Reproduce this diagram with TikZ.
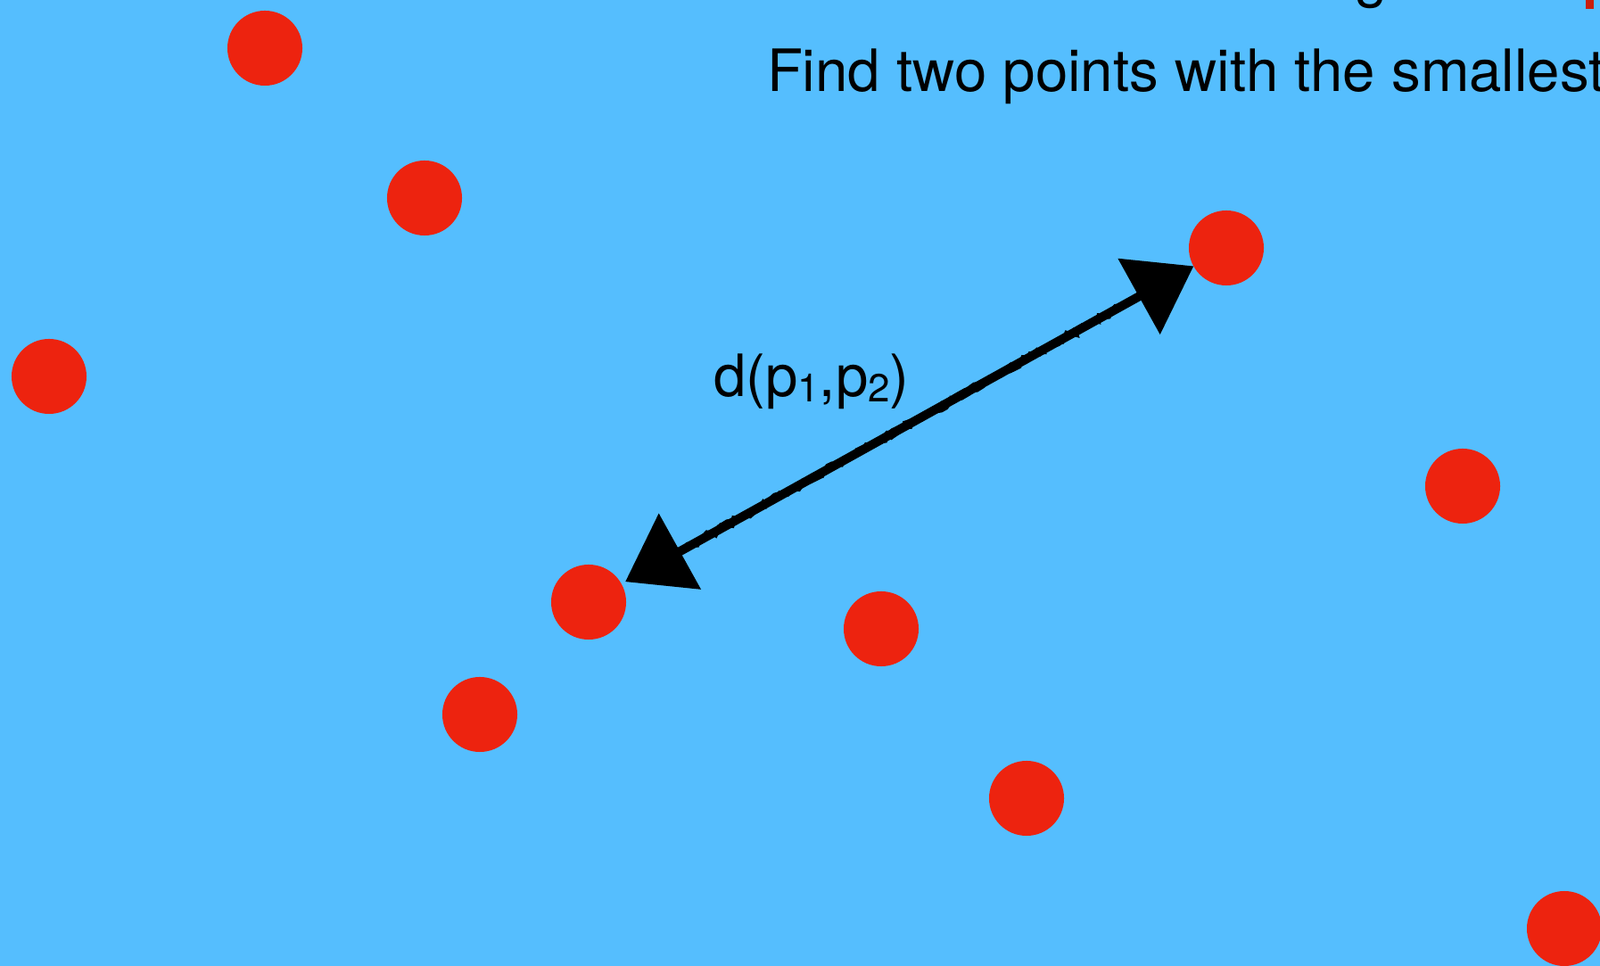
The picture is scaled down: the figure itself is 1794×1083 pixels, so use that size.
\documentclass[tikz,border=0pt]{standalone}
\usepackage{fontspec}
\setmainfont{TeX Gyre Heros}
\usetikzlibrary{arrows.meta,decorations.pathmorphing,calc}
\definecolor{bgblue}{RGB}{85,190,254}
\definecolor{dotred}{RGB}{237,35,15}
\tikzset{
  pt/.style={circle,fill=dotred,draw=none,inner sep=0pt,outer sep=0pt,minimum size=0.84cm},
  bigtext/.style={inner sep=0pt,outer sep=0pt,font=\fontsize{18.6}{22}\selectfont},
  distarrow/.style={line width=0.1cm,draw=black,
    {Triangle[length=0.7cm,width=0.95cm]}-{Triangle[length=0.7cm,width=0.95cm]},
    shorten <=0.05cm},
  roughline/.style={line width=0.04cm,draw=black,decorate,
    decoration={random steps,segment length=2pt,amplitude=1.3pt}}
}
\newcommand{\subsc}[1]{\raisebox{-0.15ex}{\fontsize{12.5}{13}\selectfont #1}}
\begin{document}
\begin{tikzpicture}[x=0.01cm,y=-0.01cm]
\useasboundingbox (0,0) rectangle (1794,1083);
\clip (0,0) rectangle (1794,1083);
\fill[bgblue] (0,0) rectangle (1794,1083);
% partial title line above
\node[bigtext,anchor=base west] (gtail) at (1519,-4) {g};
\fill[dotred!85!black] (1778,0) rectangle (1787,10);
% subtitle
\node[bigtext,anchor=base west] (sub) at (860,103) {Find two points with the smallest};
% points
\node[pt] (a) at (297,54) {};
\node[pt] (b) at (476,222) {};
\node[pt] (c) at (55,422) {};
\node[pt] (p2) at (1375,278) {};
\node[pt] (e) at (1640,545) {};
\node[pt] (p1) at (660,675) {};
\node[pt] (f) at (988,705) {};
\node[pt] (g) at (538,801) {};
\node[pt] (h) at (1151,895) {};
\node[pt] (i) at (1754,1041) {};
% distance arrow
\draw[distarrow] (p1) -- (p2);
\draw[roughline] ($(p1)!0.15!(p2)$) -- ($(p1)!0.85!(p2)$);
\draw[roughline,line width=0.03cm] ($(p1)!0.16!(p2)$) -- ($(p1)!0.84!(p2)$);
% label
\node[bigtext,anchor=base west] (lbl) at (800,445) {d(p\subsc{1},p\subsc{2})};
\end{tikzpicture}
\end{document}
